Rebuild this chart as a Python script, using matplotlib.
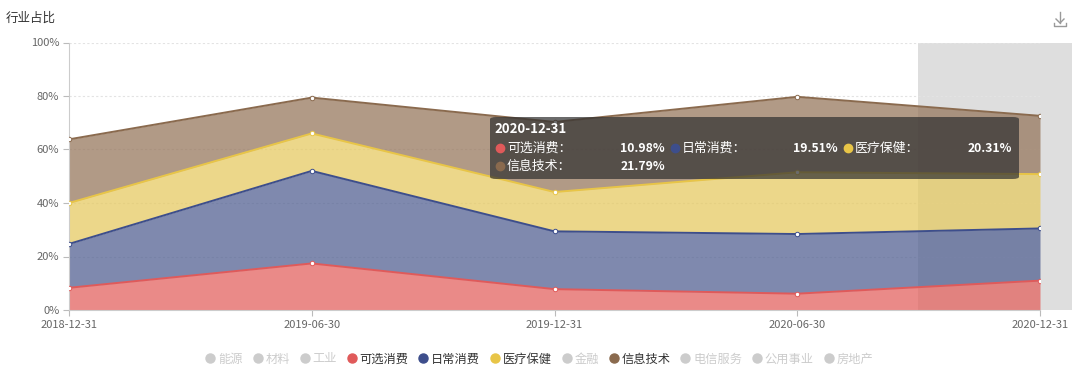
import matplotlib
matplotlib.use("Agg")
import matplotlib.pyplot as plt
import numpy as np
from matplotlib.lines import Line2D
from matplotlib.patches import Rectangle, FancyBboxPatch

plt.rcParams['font.family'] = ['Noto Sans CJK SC', 'DejaVu Sans']

# data
dates = ["2018-12-31", "2019-06-30", "2019-12-31", "2020-06-30", "2020-12-31"]
series_names = ["可选消费", "日常消费", "医疗保健", "信息技术"]
kexuan = [8.3, 17.4, 7.8, 6.1, 10.98]
richang = [16.4, 34.6, 21.6, 22.3, 19.51]
yiliao = [15.3, 14.0, 14.7, 23.1, 20.31]
xinxi = [23.8, 13.4, 26.2, 28.2, 21.79]
legend_names = ["能源", "材料", "工业", "可选消费", "日常消费", "医疗保健",
                "金融", "信息技术", "电信服务", "公用事业", "房地产"]
y_ticks = [0, 20, 40, 60, 80, 100]
y_labels = ["0%", "20%", "40%", "60%", "80%", "100%"]

line_colors = ["#e05a5a", "#3d4e8c", "#e8c547", "#8a6a4e"]
fill_colors = ["#ea8a88", "#7f89ae", "#ecd78a", "#b19a86"]
fill_alpha = 0.75

def solid_to_alpha(hexc, a):
    # colour that gives hexc on white when drawn with alpha a
    rgb = np.array(matplotlib.colors.to_rgb(hexc))
    c = (rgb - (1 - a)) / a
    return tuple(np.clip(c, 0, 1))

W, H = 1080, 374
fig = plt.figure(figsize=(W / 100, H / 100), dpi=100)

def fx(px):
    return px / W

def fy(py):
    return 1 - py / H

ax = fig.add_axes([fx(69), fy(310), fx(1040) - fx(69), (310 - 42.5) / H])

x = np.arange(len(dates))
values = [kexuan, richang, yiliao, xinxi]
bottom = np.zeros(len(dates))

# tooltip axis shadow (behind series)
ax.add_patch(Rectangle((3.497, 0), 4.132 - 3.497, 100, facecolor="#dedede",
                       edgecolor="none", zorder=0, clip_on=False))

for i, vals in enumerate(values):
    top = bottom + np.array(vals)
    ax.fill_between(x, bottom, top, color=solid_to_alpha(fill_colors[i], fill_alpha),
                    alpha=fill_alpha, linewidth=0, zorder=2)
    ax.plot(x, top, color=line_colors[i], lw=1.4, zorder=3)
    ax.plot(x, top, "o", ms=3.2, mfc="white", mec=line_colors[i], mew=0.7, zorder=4)
    bottom = top

ax.set_xlim(0, len(dates) - 1)
ax.set_ylim(0, 100)
ax.set_xticks(x)
ax.set_xticklabels(dates)
ax.set_yticks(y_ticks)
ax.set_yticklabels(y_labels)
ax.tick_params(axis="both", colors="#bbbbbb", labelcolor="#666666", labelsize=8, length=4, width=0.8)
ax.tick_params(axis="x", pad=3)
ax.tick_params(axis="y", pad=3)
for yt in y_ticks[1:]:
    ax.axhline(yt, color="#e3e3e3", lw=0.8, ls=(0, (2, 2)), zorder=1)
for s in ["top", "right"]:
    ax.spines[s].set_visible(False)
ax.spines["left"].set_color("#cccccc")
ax.spines["bottom"].set_color("#cccccc")
ax.set_facecolor("none")

# title
fig.text(fx(6), fy(18), "行业占比", fontsize=9, color="#333333", va="center", ha="left")

# download icon
icon_col = "#999999"
fig.add_artist(Line2D([fx(1060), fx(1060)], [fy(12), fy(23)], color=icon_col, lw=1))
fig.add_artist(Line2D([fx(1056), fx(1060), fx(1064)], [fy(19), fy(23), fy(19)], color=icon_col, lw=1))
fig.add_artist(Line2D([fx(1054), fx(1054), fx(1066), fx(1066)], [fy(23), fy(26), fy(26), fy(23)], color=icon_col, lw=1))

# tooltip
tip = FancyBboxPatch((fx(490), fy(179)), fx(1019) - fx(490), (179 - 117) / H,
                     boxstyle="round,pad=0,rounding_size=0.006", transform=fig.transFigure,
                     facecolor="#323232", alpha=0.72, edgecolor="none", zorder=10)
fig.add_artist(tip)
fig.text(fx(494), fy(129), dates[-1], fontsize=9.5, fontweight="bold", color="white",
         va="center", ha="left", zorder=11)
rows = [(148, 500, 665), (148, 675, 838), (148, 848, 1012), (166, 500, 665)]
for i, (ry, dx, vx) in enumerate(rows):
    fig.add_artist(Line2D([fx(dx)], [fy(ry)], marker="o", ms=6, color=line_colors[i],
                          lw=0, zorder=11))
    fig.text(fx(dx + 7), fy(ry), series_names[i] + "：", fontsize=9.3, color="white",
             va="center", ha="left", zorder=11)
    fig.text(fx(vx), fy(ry), f"{values[i][-1]:.2f}%", fontsize=8.8, fontweight="bold",
             color="white", va="center", ha="right", zorder=11)

# legend
active = dict(zip(series_names, line_colors))
handles = []
for name in legend_names:
    c = active.get(name, "#cccccc")
    handles.append(Line2D([], [], marker="o", ls="", ms=6.5, color=c))
leg = fig.legend(handles, legend_names, loc="center", bbox_to_anchor=(0.5, fy(359)),
                 ncol=len(legend_names), frameon=False, fontsize=8.8, handlelength=0.6,
                 handletextpad=0.35, columnspacing=0.9, borderaxespad=0)
for txt, name in zip(leg.get_texts(), legend_names):
    txt.set_color("#333333" if name in active else "#cccccc")

fig.savefig("out.png", dpi=100)
